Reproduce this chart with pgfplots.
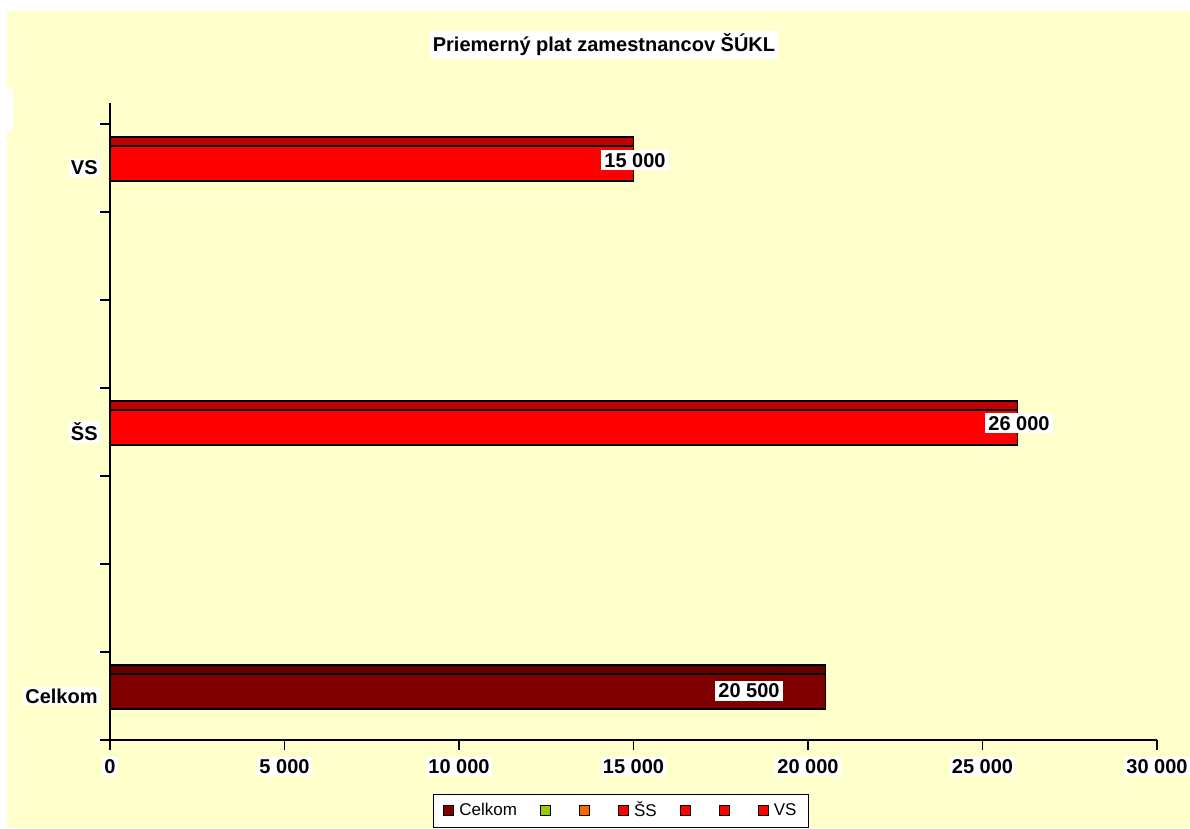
\documentclass[border=0pt]{standalone}
\usepackage{fontspec}
\setmainfont{Liberation Sans}
\usepackage{pgfplots}
\pgfplotsset{compat=1.18}
\definecolor{bgyellow}{HTML}{FFFFCC}
\definecolor{celkom}{HTML}{800000}
\definecolor{celkomtop}{HTML}{600000}
\definecolor{redface}{HTML}{FF0000}
\definecolor{redtop}{HTML}{C00000}
\definecolor{lgreen}{HTML}{99CC00}
\definecolor{lorange}{HTML}{FF6600}
\pgfplotsset{legend image code/.code={\draw[#1,draw=black,line width=0.5pt] (0pt,-2.1pt) rectangle (5pt,2.9pt);}}

\begin{document}
\begin{tikzpicture}
% page background
\fill[white] (0,0) rectangle (595pt,414pt);
\fill[bgyellow] (3.5pt,0) rectangle (595pt,408.5pt);
\fill[white] (3.5pt,348.5pt) rectangle (6.5pt,369.5pt);
\node[fill=white, inner sep=1.5pt, font=\bfseries\fontsize{10}{12}\selectfont] at (302pt,391.5pt) {Priemerný plat zamestnancov ŠÚKL};

\begin{axis}[
  at={(55pt,44pt)}, anchor=south west,
  width=523.5pt, height=318.5pt, scale only axis,
  xmin=0, xmax=30000, ymin=0, ymax=7.24,
  axis lines*=left,
  axis line style={black, line width=0.6pt},
  scaled x ticks=false,
  xtick={0,5000,...,30000},
  xticklabels={0,5 000,10 000,15 000,20 000,25 000,30 000},
  xticklabel style={yshift=-3.5pt},
  ytick={0,1,...,7}, yticklabels={},
  extra y ticks={0.5,3.5,6.5},
  extra y tick labels={Celkom,ŠS,VS},
  extra y tick style={major tick length=0pt, yticklabel style={xshift=-5pt}},
  tick align=outside, major tick length=5pt,
  tick style={black, line width=0.7pt},
  ticklabel style={font=\bfseries\fontsize{10}{12}\selectfont, fill=white, inner sep=1pt},
  legend columns=7,
  legend style={at={(0.488,-0.1115)}, anchor=center, draw=black, fill=white,
    line width=0.5pt, font=\fontsize{8.5}{10}\selectfont,
    inner xsep=5pt, inner ysep=3pt,
    nodes={inner sep=1pt},
    /tikz/every odd column/.append style={column sep=1.5pt},
    /tikz/every even column/.append style={column sep=10.5pt}},
  legend cell align=left,
  bars/.style={xbar, bar shift=0pt, draw=black, line width=0.8pt, forget plot},
]
% Celkom
\addplot[bars, fill=celkomtop, bar width=4.5pt] coordinates {(20500,0.801)};
\addplot[bars, fill=celkom, bar width=17.5pt] coordinates {(20500,0.551)};
% ŠS
\addplot[bars, fill=redtop, bar width=4.5pt] coordinates {(26000,3.801)};
\addplot[bars, fill=redface, bar width=17.5pt] coordinates {(26000,3.551)};
% VS
\addplot[bars, fill=redtop, bar width=4.5pt] coordinates {(15000,6.801)};
\addplot[bars, fill=redface, bar width=17.5pt] coordinates {(15000,6.551)};

\node[fill=white, inner sep=1.5pt, font=\bfseries\fontsize{10}{12}\selectfont] at (axis cs:15043,6.59) {15 000};
\node[fill=white, inner sep=1.5pt, font=\bfseries\fontsize{10}{12}\selectfont] at (axis cs:26046,3.60) {26 000};
\node[fill=white, inner sep=1.5pt, font=\bfseries\fontsize{10}{12}\selectfont] at (axis cs:18309,0.557) {20 500};

\addlegendimage{fill=celkom}\addlegendentry{Celkom}
\addlegendimage{fill=lgreen}\addlegendentry{}
\addlegendimage{fill=lorange}\addlegendentry{}
\addlegendimage{fill=redface}\addlegendentry{ŠS}
\addlegendimage{fill=redface}\addlegendentry{}
\addlegendimage{fill=redface}\addlegendentry{}
\addlegendimage{fill=redface}\addlegendentry{VS}
\end{axis}
\end{tikzpicture}
\end{document}
